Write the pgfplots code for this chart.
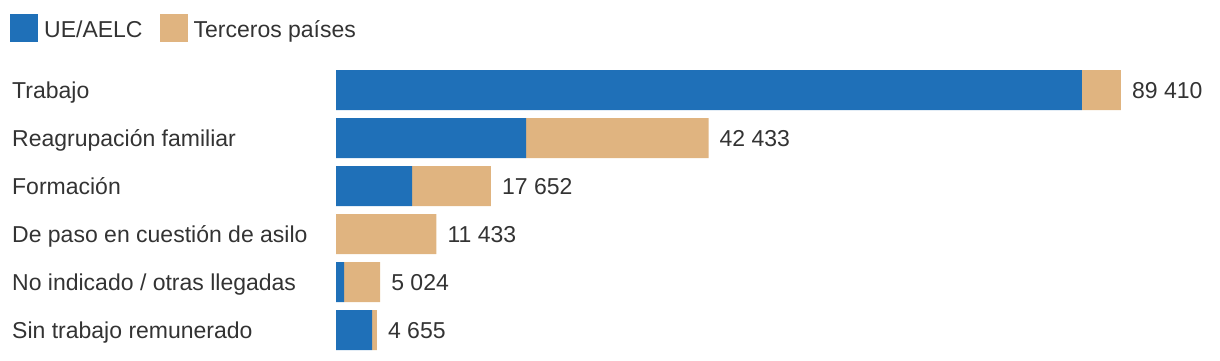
\documentclass[border=0pt]{standalone}
\usepackage{fontspec}
\setmainfont{Liberation Sans}
\usepackage{pgfplots}
\pgfplotsset{compat=1.18}
\definecolor{ueblue}{RGB}{31,112,184}
\definecolor{tercer}{RGB}{224,180,128}
\definecolor{txt}{RGB}{51,51,51}
\newcommand\cf{\fontsize{23pt}{27pt}\selectfont}
\pgfplotsset{base/.style={
  at={(336pt,0pt)}, anchor=south west,
  scale only axis, width=884pt, height=300pt,
  bar width=40pt,
  xmin=0, xmax=100700,
  ymin=-0.625, ymax=5.625,
  clip=false}}
\begin{document}
\cf
\begin{tikzpicture}[x=1pt,y=1pt]
\path[use as bounding box] (0,0) rectangle (1220,360);
\begin{axis}[base,
  xbar stacked,
  axis line style={draw=none},
  major tick length=0pt,
  xtick=\empty,
  ytick={0,1,2,3,4,5},
  yticklabels={Sin trabajo remunerado, No indicado / otras llegadas, De paso en cuestión de asilo, Formación, Reagrupación familiar, Trabajo},
  yticklabel style={anchor=base west, xshift=-324pt, yshift=-8pt, inner sep=0pt, font=\cf, text=txt},
  legend cell align=left,
  legend columns=2,
  legend style={at={(-0.3688,1.1533)}, anchor=north west, draw=none, fill=none, inner sep=0pt,
    nodes={inner sep=0pt, font=\cf, text=txt},
    /tikz/every odd column/.style={column sep=6pt},
    /tikz/every even column/.style={column sep=17pt}},
  legend image code/.code={\fill[#1] (0pt,-11.3pt) rectangle (28pt,16.7pt);},
]
\addplot[fill=ueblue, draw=none] coordinates {(4104,0) (912,1) (0,2) (8664,3) (21660,4) (84970,5)};
\addplot[fill=tercer, draw=none] coordinates {(551,0) (4112,1) (11433,2) (8988,3) (20773,4) (4440,5)};
\legend{UE/AELC, Terceros países}
\end{axis}
\begin{axis}[base, xbar, hide axis]
\addplot[draw=none, fill=none, nodes near coords, point meta=explicit symbolic,
  nodes near coords style={anchor=base west, xshift=11pt, yshift=-8.5pt, inner sep=0pt, font=\cf, text=txt}]
  coordinates {(4655,0)[4 655] (5024,1)[5 024] (11433,2)[11 433] (17652,3)[17 652] (42433,4)[42 433] (89410,5)[89 410]};
\end{axis}
\end{tikzpicture}
\end{document}
